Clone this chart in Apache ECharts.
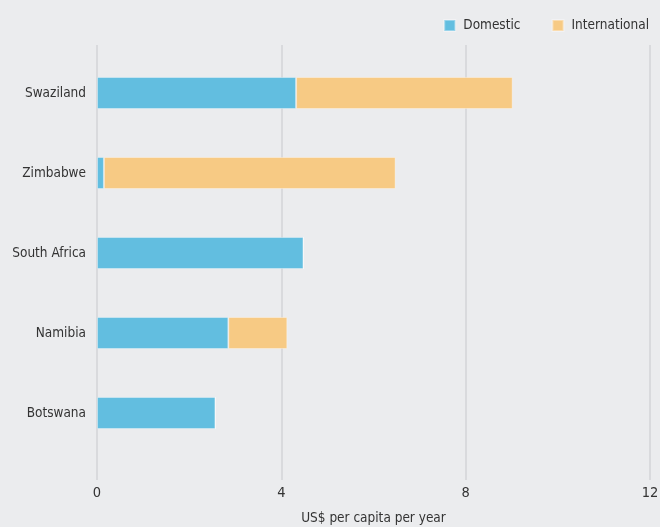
<!DOCTYPE html>
<html>
<head>
<meta charset="utf-8">
<script src="https://cdn.jsdelivr.net/npm/echarts@6/dist/echarts.min.js"></script>
<style>
html,body{margin:0;padding:0;background:#ebecee;}
#chart{width:660px;height:527px;}
</style>
</head>
<body>
<div id="chart"></div>
<script>
var categories = ['Swaziland', 'Zimbabwe', 'South Africa', 'Namibia', 'Botswana'];
var domestic = [4.32, 0.15, 4.48, 2.85, 2.57];
var international = [4.70, 6.33, 0, 1.28, 0];
var xTicks = [0, 4, 8, 12];

var FONT = '"Liberation Sans Narrow", "DejaVu Sans Condensed", "Roboto", sans-serif';
var TXT = '#333';
var chart = echarts.init(document.getElementById('chart'));
chart.setOption({
  backgroundColor: '#ebecee',
  textStyle: {fontFamily: FONT},
  legend: {
    right: 6, top: 13.5,
    itemWidth: 11, itemHeight: 11, itemGap: 31,
    icon: 'rect',
    textStyle: {fontFamily: FONT, fontSize: 13.5, color: TXT, padding: [0, 0, 0, 3]},
    data: ['Domestic', 'International']
  },
  grid: [
    {left: 97, right: 10, top: 45, bottom: 47, outerBoundsMode: 'none', containLabel: false},
    {left: 97, right: 10, top: 53, bottom: 74, outerBoundsMode: 'none', containLabel: false}
  ],
  xAxis: [
    {
      gridIndex: 0, type: 'value', min: xTicks[0], max: xTicks[xTicks.length - 1], interval: 4,
      axisLine: {show: false}, axisTick: {show: false},
      splitLine: {show: true, lineStyle: {color: '#d3d4d7', width: 1.5}},
      axisLabel: {margin: 6, fontFamily: FONT, fontSize: 14.5, color: TXT},
      name: 'US$ per capita per year', nameLocation: 'middle', nameGap: 31,
      nameTextStyle: {fontFamily: FONT, fontSize: 13.5, color: TXT}
    },
    {
      gridIndex: 1, type: 'value', min: xTicks[0], max: xTicks[xTicks.length - 1], interval: 4,
      show: false
    }
  ],
  yAxis: [
    {gridIndex: 0, type: 'value', show: false},
    {
      gridIndex: 1, type: 'category', inverse: true, data: categories,
      axisLine: {show: false}, axisTick: {show: false},
      axisLabel: {margin: 11, fontFamily: FONT, fontSize: 13.5, color: TXT}
    }
  ],
  series: [
    {
      name: 'Domestic', type: 'bar', stack: 'total', xAxisIndex: 1, yAxisIndex: 1,
      data: domestic, barWidth: 32,
      itemStyle: {color: '#62bee0', borderColor: 'rgba(255,255,255,0.35)', borderWidth: 1},
      emphasis: {disabled: true}
    },
    {
      name: 'International', type: 'bar', stack: 'total', xAxisIndex: 1, yAxisIndex: 1,
      data: international, barWidth: 32,
      itemStyle: {color: '#f7ca84', borderColor: 'rgba(255,255,255,0.35)', borderWidth: 1},
      emphasis: {disabled: true}
    }
  ]
});
</script>
</body>
</html>
